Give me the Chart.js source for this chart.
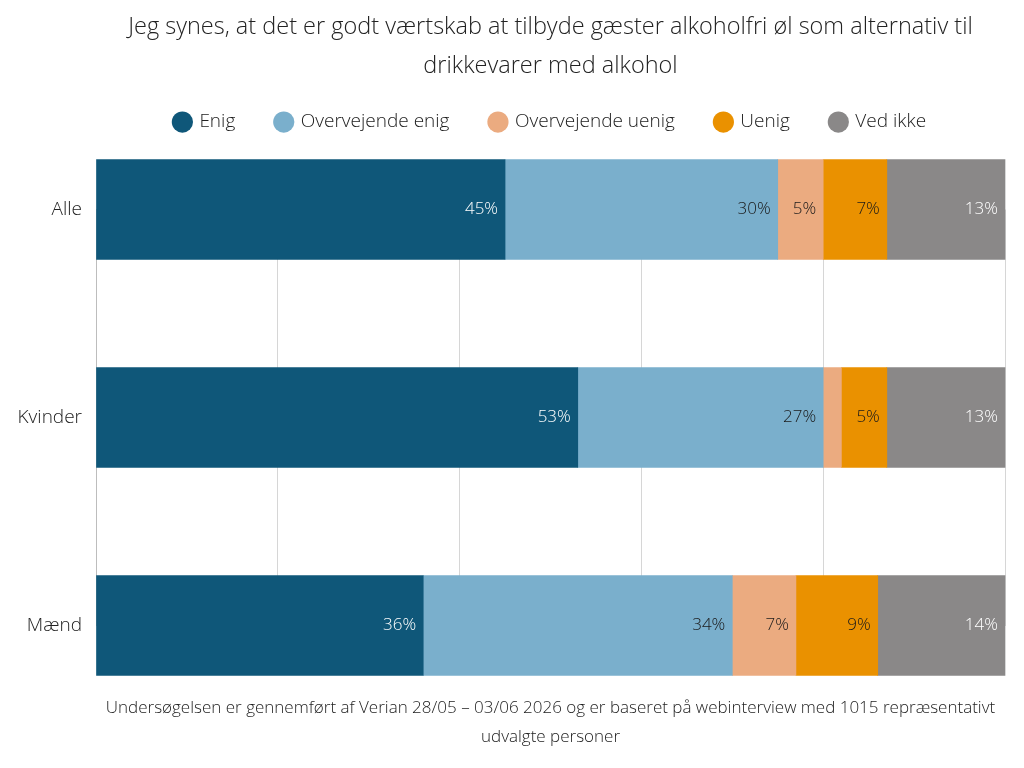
<!DOCTYPE html>
<html lang="da">
<head>
<meta charset="utf-8">
<title>Alkoholfri øl som godt værtskab</title>
<script src="https://cdn.jsdelivr.net/npm/chart.js@4"></script>
<style>
  html, body { margin: 0; padding: 0; background: #fff; }
  #wrap { width: 1024px; height: 768px; }
</style>
</head>
<body>
<div id="wrap"><canvas id="chart"></canvas></div>
<script>
// Data (percent)
var groups = ['Alle', 'Kvinder', 'Mænd'];
var answers = ['Enig', 'Overvejende enig', 'Overvejende uenig', 'Uenig', 'Ved ikke'];
var enig = [45, 53, 36];
var overvejendeEnig = [30, 27, 34];
var overvejendeUenig = [5, 2, 7];
var uenig = [7, 5, 9];
var vedIkke = [13, 13, 14];

var colors = ['#0f5779', '#7aafcc', '#ebab80', '#ea9100', '#8a8888'];
var labelColors = ['#ffffff', '#1a1a1a', '#1a1a1a', '#1a1a1a', '#ffffff'];
var seriesValues = [enig, overvejendeEnig, overvejendeUenig, uenig, vedIkke];

var fontFamily = '"Open Sans", "Noto Sans", sans-serif';

// Draws the percentage at the right end of every segment
var segmentLabels = {
    id: 'segmentLabels',
    afterDatasetsDraw: function(chart) {
        var ctx = chart.ctx;
        ctx.save();
        ctx.font = '300 17px ' + fontFamily;
        ctx.textAlign = 'right';
        ctx.textBaseline = 'middle';
        chart.data.datasets.forEach(function(ds, i) {
            var meta = chart.getDatasetMeta(i);
            if (meta.hidden) return;
            meta.data.forEach(function(bar, j) {
                var value = ds.data[j];
                if (value < 3) return; // too small to label
                ctx.fillStyle = labelColors[i];
                ctx.fillText(value + '%', bar.x - 7, bar.y);
            });
        });
        ctx.restore();
    }
};

// Bars stick out of the chart area, so keep some room under the legend
var legendSpacing = {
    id: 'legendSpacing',
    beforeInit: function(chart) {
        var originalFit = chart.legend.fit;
        chart.legend.fit = function() {
            originalFit.bind(chart.legend)();
            this.height += 68;
        };
    }
};

var datasets = answers.map(function(name, i) {
    return {
        label: name,
        data: seriesValues[i],
        backgroundColor: colors[i],
        borderWidth: 0,
        barThickness: 100,
        clip: false
    };
});

Chart.defaults.font.family = fontFamily;
Chart.defaults.color = '#222';

new Chart(document.getElementById('chart'), {
    type: 'bar',
    data: { labels: groups, datasets: datasets },
    plugins: [segmentLabels, legendSpacing],
    options: {
        indexAxis: 'y',
        responsive: true,
        maintainAspectRatio: false,
        animation: false,
        layout: { padding: { top: 0, right: 19, bottom: 16, left: 0 } },
        scales: {
            x: {
                stacked: true,
                min: 0,
                max: 100,
                ticks: { display: false, stepSize: 20 },
                grid: { color: '#d6d6d6', drawTicks: false },
                border: { display: false }
            },
            y: {
                stacked: true,
                offset: false,
                grid: { display: false },
                border: { display: true, color: '#bdbdbd' },
                ticks: { font: { size: 19, weight: '300' }, color: '#222', padding: 6 },
                afterFit: function(scale) { scale.width = 96; }
            }
        },
        plugins: {
            title: {
                display: true,
                fullSize: false,
                text: ['Jeg synes, at det er godt værtskab at tilbyde gæster alkoholfri øl som alternativ til',
                       'drikkevarer med alkohol'],
                font: { size: 23.5, weight: '300', lineHeight: 1.66 },
                color: '#222',
                padding: { top: 7.5, bottom: -14 }
            },
            legend: {
                position: 'top',
                fullSize: false,
                labels: {
                    usePointStyle: true,
                    pointStyle: 'circle',
                    boxWidth: 15,
                    boxHeight: 15,
                    padding: 41,
                    color: '#222',
                    font: { size: 19, weight: '300' }
                }
            },
            subtitle: {
                display: true,
                position: 'bottom',
                fullSize: false,
                text: ['Undersøgelsen er gennemført af Verian 28/05 – 03/06 2026 og er baseret på webinterview med 1015 repræsentativt',
                       'udvalgte personer'],
                font: { size: 17, weight: '300', lineHeight: 1.7 },
                color: '#222',
                padding: { top: 68.7, bottom: 0 }
            },
            tooltip: { enabled: false }
        }
    }
});
</script>
</body>
</html>
